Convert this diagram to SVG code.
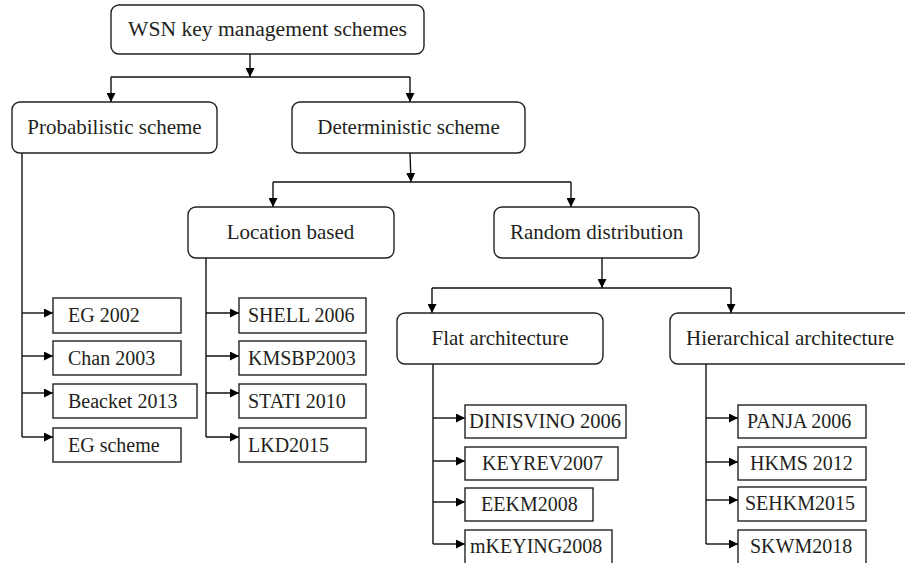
<svg xmlns="http://www.w3.org/2000/svg" width="905" height="563" viewBox="0 0 905 563">
<defs>
<marker id="ah" viewBox="0 0 10 10" refX="10" refY="5" markerWidth="9" markerHeight="9" markerUnits="userSpaceOnUse" orient="auto">
<path d="M0,0 L10,5 L0,10 z" fill="#000"/>
</marker>
<style>
.nb{fill:#fff;stroke:#222;stroke-width:1.4}
.lb{fill:#fff;stroke:#222;stroke-width:1.4}
text{font-family:"Liberation Serif","Times New Roman",serif;font-size:20px;fill:#231f20}
.n{font-size:21px}
.r{font-size:21.6px}
.c{text-anchor:middle}
.cn line{stroke:#111;stroke-width:1.4;fill:none}
.ar{marker-end:url(#ah)}
</style>
</defs>
<rect width="905" height="563" fill="#fff"/>
<g class="cn" id="connectors">
<line class="ar" x1="250" y1="54" x2="250" y2="77"/>
<line x1="111" y1="77" x2="410" y2="77"/>
<line class="ar" x1="111" y1="77" x2="111" y2="102"/>
<line class="ar" x1="410" y1="77" x2="410" y2="102"/>
<line class="ar" x1="410" y1="153" x2="411" y2="182"/>
<line x1="273" y1="182" x2="571" y2="182"/>
<line class="ar" x1="273" y1="182" x2="273" y2="207"/>
<line class="ar" x1="571" y1="182" x2="571" y2="207"/>
<line class="ar" x1="602" y1="258" x2="602" y2="288"/>
<line x1="432" y1="288" x2="731" y2="288"/>
<line class="ar" x1="432" y1="288" x2="432" y2="313"/>
<line class="ar" x1="731" y1="288" x2="731" y2="313"/>
<line x1="22" y1="153" x2="22" y2="437"/>
<line class="ar" x1="22" y1="313" x2="53" y2="313"/>
<line class="ar" x1="22" y1="356" x2="53" y2="356"/>
<line class="ar" x1="22" y1="393" x2="53" y2="393"/>
<line class="ar" x1="22" y1="437" x2="53" y2="437"/>
<line x1="206" y1="258" x2="206" y2="437"/>
<line class="ar" x1="206" y1="313" x2="239" y2="313"/>
<line class="ar" x1="206" y1="356" x2="239" y2="356"/>
<line class="ar" x1="206" y1="393" x2="239" y2="393"/>
<line class="ar" x1="206" y1="437" x2="239" y2="437"/>
<line x1="433" y1="364" x2="433" y2="544"/>
<line class="ar" x1="433" y1="418" x2="465" y2="418"/>
<line class="ar" x1="433" y1="461" x2="465" y2="461"/>
<line class="ar" x1="433" y1="502" x2="465" y2="502"/>
<line class="ar" x1="433" y1="544" x2="465" y2="544"/>
<line x1="706" y1="364" x2="706" y2="544"/>
<line class="ar" x1="706" y1="418" x2="738" y2="418"/>
<line class="ar" x1="706" y1="462" x2="738" y2="462"/>
<line class="ar" x1="706" y1="500" x2="738" y2="500"/>
<line class="ar" x1="706" y1="544" x2="738" y2="544"/>
</g>
<g id="root"><rect class="nb" x="111" y="5" width="313" height="49" rx="8"/><text class="c r" x="267.5" y="36">WSN key management schemes</text></g>
<g id="probabilistic"><rect class="nb" x="12" y="102" width="205" height="51" rx="8"/><text class="c n" x="114.5" y="134">Probabilistic scheme</text></g>
<g id="deterministic"><rect class="nb" x="292" y="102" width="233" height="51" rx="8"/><text class="c n" x="408.5" y="134">Deterministic scheme</text></g>
<g id="location"><rect class="nb" x="188" y="207" width="206" height="51" rx="8"/><text class="c n" x="290.5" y="239">Location based</text></g>
<g id="random"><rect class="nb" x="494" y="207" width="205" height="51" rx="8"/><text class="c n" x="596.5" y="239">Random distribution</text></g>
<g id="flat"><rect class="nb" x="397" y="313" width="206" height="51" rx="8"/><text class="c n" x="500" y="345">Flat architecture</text></g>
<g id="hierarchical"><rect class="nb" x="670" y="313" width="250" height="51" rx="8"/><text class="n" x="686" y="345">Hierarchical architecture</text></g>
<g id="eg2002"><rect class="lb" x="53" y="298" width="128" height="35"/><text x="68" y="322">EG 2002</text></g>
<g id="chan2003"><rect class="lb" x="53" y="341" width="128" height="34"/><text x="68" y="365">Chan 2003</text></g>
<g id="beacket2013"><rect class="lb" x="53" y="384" width="144" height="34"/><text x="68" y="408">Beacket 2013</text></g>
<g id="egscheme"><rect class="lb" x="53" y="428" width="128" height="34"/><text x="68" y="452">EG scheme</text></g>
<g id="shell2006"><rect class="lb" x="239" y="298" width="127" height="35"/><text x="248" y="322">SHELL 2006</text></g>
<g id="kmsbp2003"><rect class="lb" x="239" y="341" width="127" height="34"/><text x="248" y="365">KMSBP2003</text></g>
<g id="stati2010"><rect class="lb" x="239" y="384" width="127" height="34"/><text x="248" y="408">STATI 2010</text></g>
<g id="lkd2015"><rect class="lb" x="239" y="428" width="127" height="34"/><text x="248" y="452">LKD2015</text></g>
<g id="dinisvino2006"><rect class="lb" x="465" y="405" width="161" height="33"/><text x="469" y="428" style="font-size:20.5px">DINISVINO 2006</text></g>
<g id="keyrev2007"><rect class="lb" x="465" y="447" width="153" height="33"/><text x="482" y="470">KEYREV2007</text></g>
<g id="eekm2008"><rect class="lb" x="465" y="488" width="128" height="33"/><text x="481" y="511">EEKM2008</text></g>
<g id="mkeying2008"><rect class="lb" x="465" y="530" width="147" height="40"/><text x="470" y="553">mKEYING2008</text></g>
<g id="panja2006"><rect class="lb" x="738" y="405" width="128" height="33"/><text x="747" y="428">PANJA 2006</text></g>
<g id="hkms2012"><rect class="lb" x="738" y="447" width="128" height="33"/><text x="750" y="470">HKMS 2012</text></g>
<g id="sehkm2015"><rect class="lb" x="738" y="487" width="128" height="34"/><text x="745" y="510">SEHKM2015</text></g>
<g id="skwm2018"><rect class="lb" x="738" y="530" width="128" height="40"/><text x="750" y="553">SKWM2018</text></g>
</svg>
